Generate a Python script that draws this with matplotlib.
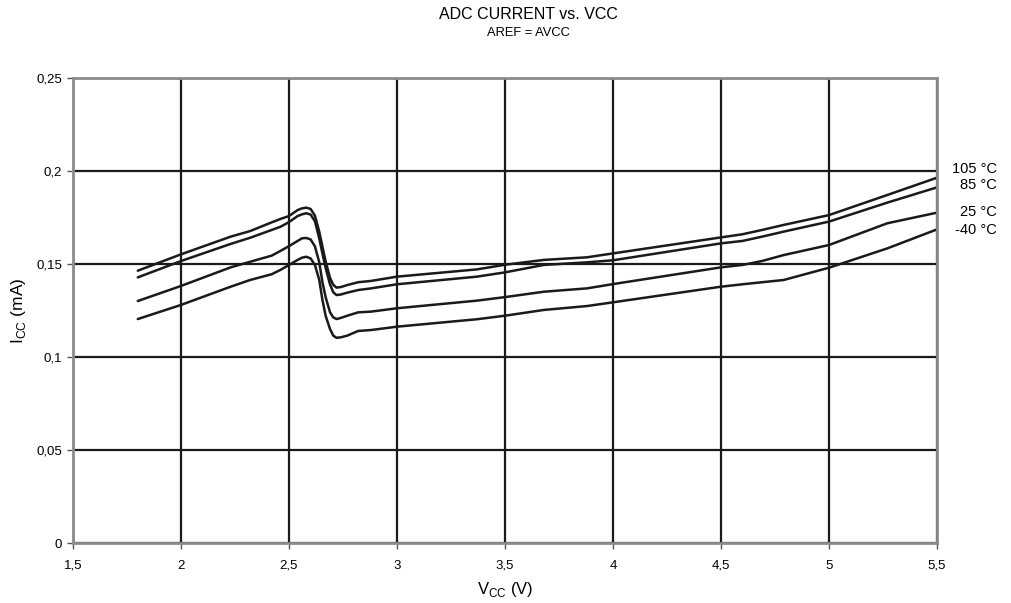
import matplotlib
matplotlib.use("Agg")
import matplotlib.pyplot as plt

plt.rcParams['font.family'] = ['Liberation Sans', 'DejaVu Sans']

vcc = [1.8, 2.0, 2.23, 2.32, 2.42, 2.46, 2.5, 2.54, 2.56, 2.58, 2.60, 2.62, 2.64, 2.655,
       2.67, 2.69, 2.705, 2.72, 2.74, 2.77, 2.82, 2.88, 3.0, 3.37, 3.5, 3.68, 3.88, 4.0,
       4.5, 4.6, 4.69, 4.79, 5.0, 5.27, 5.5]

icc_105 = [0.1464, 0.1552, 0.1647, 0.1677, 0.1724, 0.1742, 0.1758, 0.1790, 0.1799, 0.1803,
           0.1796, 0.1760, 0.1674, 0.1592, 0.1512, 0.1425, 0.1388, 0.1373, 0.1376, 0.1387,
           0.1402, 0.1409, 0.1432, 0.1471, 0.1496, 0.1522, 0.1536, 0.1557, 0.1643, 0.1660,
           0.1683, 0.1710, 0.1763, 0.1871, 0.1964]
icc_85 = [0.1428, 0.1516, 0.1608, 0.1641, 0.1683, 0.1700, 0.1725, 0.1758, 0.1767, 0.1773,
          0.1766, 0.1730, 0.1638, 0.1555, 0.1477, 0.1390, 0.1348, 0.1333, 0.1336, 0.1346,
          0.1360, 0.1369, 0.1391, 0.1432, 0.1455, 0.1495, 0.1509, 0.1520, 0.1611, 0.1624,
          0.1647, 0.1674, 0.1728, 0.1830, 0.1912]
icc_25 = [0.1301, 0.1382, 0.1482, 0.1512, 0.1545, 0.1570, 0.1596, 0.1624, 0.1638, 0.1640,
          0.1632, 0.1595, 0.1510, 0.1400, 0.1320, 0.1240, 0.1213, 0.1204, 0.1210, 0.1222,
          0.1240, 0.1244, 0.1262, 0.1303, 0.1322, 0.1351, 0.1369, 0.1392, 0.1482, 0.1495,
          0.1516, 0.1548, 0.1602, 0.1719, 0.1776]
icc_m40 = [0.1204, 0.1280, 0.1378, 0.1414, 0.1445, 0.1468, 0.1495, 0.1522, 0.1534, 0.1539,
           0.1530, 0.1495, 0.1415, 0.1305, 0.1220, 0.1150, 0.1115, 0.1103, 0.1106, 0.1115,
           0.1140, 0.1145, 0.1163, 0.1203, 0.1222, 0.1253, 0.1274, 0.1294, 0.1378, 0.1391,
           0.1402, 0.1414, 0.1480, 0.1584, 0.1686]

series = [icc_105, icc_85, icc_25, icc_m40]
series_labels = ["105 °C", "85 °C", "25 °C", "-40 °C"]
label_y = [0.2010, 0.1925, 0.1780, 0.1682]

x_ticks = [1.5, 2, 2.5, 3, 3.5, 4, 4.5, 5, 5.5]
x_ticklabels = ["1,5", "2", "2,5", "3", "3,5", "4", "4,5", "5", "5,5"]
y_ticks = [0, 0.05, 0.1, 0.15, 0.2, 0.25]
y_ticklabels = ["0", "0,05", "0,1", "0,15", "0,2", "0,25"]

fig = plt.figure(figsize=(10.11, 6.03), dpi=100)
ax = fig.add_axes([73/1011, 60/603, (937-73)/1011, (543-78)/603])

for s in series:
    ax.plot(vcc, s, color="#1a1a1a", lw=1.8, solid_joinstyle="round",
            solid_capstyle="round", zorder=3)

ax.set_xlim(1.5, 5.5)
ax.set_ylim(0, 0.25)
ax.set_xticks(x_ticks)
ax.set_xticklabels(x_ticklabels, fontsize=9.5)
ax.set_yticks(y_ticks)
ax.set_yticklabels(y_ticklabels, fontsize=9.5)
ax.tick_params(axis="both", direction="out", length=4, width=1, color="#555555")
ax.tick_params(axis="y", pad=4)
ax.tick_params(axis="x", pad=8)

ax.grid(True, color="#1a1a1a", lw=1.6, zorder=1)
ax.set_axisbelow(True)
for sp in ax.spines.values():
    sp.set_color("#8c8c8c")
    sp.set_linewidth(2)
    sp.set_zorder(4)

for lab, yv in zip(series_labels, label_y):
    ax.annotate(lab, xy=(1.0, yv), xycoords=("axes fraction", "data"),
                xytext=(997 - 937, 0), textcoords="offset pixels",
                ha="right", va="center", fontsize=10.5, annotation_clip=False)

ax.set_xlabel("V$_{\\mathregular{CC}}$ (V)", fontsize=12, labelpad=6)
ax.set_ylabel("I$_{\\mathregular{CC}}$ (mA)", fontsize=12.5, labelpad=6)

fig.text(528/1011, 1 - 14.7/603, "ADC CURRENT vs. VCC", ha="center", va="center", fontsize=11.5)
fig.text(528/1011, 1 - 32.7/603, "AREF = AVCC", ha="center", va="center", fontsize=9.3)

fig.savefig("out.png", dpi=100)
